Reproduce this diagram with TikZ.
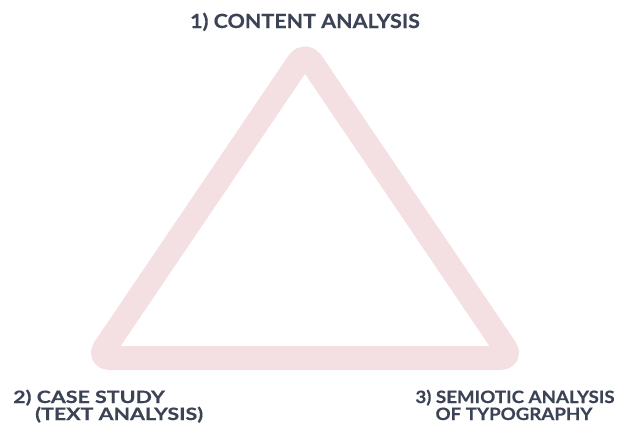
\documentclass[tikz,border=0pt]{standalone}
\usepackage{fontspec}
\setmainfont{Lato}
\newfontfamily\toplabelfont{Lato}[FakeStretch=1.1, FakeBold=0.4]
\newfontfamily\leftlabelfont{Lato}[FakeStretch=1.26, FakeBold=0.4]
\newfontfamily\rightlabelfont{Lato}[FakeStretch=1.1, FakeBold=0.4]
\usetikzlibrary{positioning}
\definecolor{trianglepink}{HTML}{F4DFE3}
\definecolor{labelgray}{HTML}{3B4354}
\tikzset{
  label text/.style={text=labelgray, inner sep=0pt},
  top text/.style={label text, font=\toplabelfont\bfseries\fontsize{19.5}{22}\selectfont},
  left text/.style={label text, font=\leftlabelfont\bfseries\fontsize{17}{20}\selectfont},
  right text/.style={label text, font=\rightlabelfont\bfseries\fontsize{17}{20}\selectfont},
}

\begin{document}
\begin{tikzpicture}[x=1pt, y=-1pt]
 \useasboundingbox (0,0) rectangle (621,431);

 % corners of the triangle
 \coordinate (apex)  at (305, 52.5);
 \coordinate (left)  at (98, 358);
 \coordinate (right) at (512, 358);

 \draw[trianglepink, line width=24pt, line join=round, rounded corners=12pt] (apex) -- (left) -- (right) -- cycle;

 % labels
 \node[top text, anchor=base] (content) at (305, 28) {1) CONTENT ANALYSIS};

 \node[left text, anchor=base west] (case) at (13, 403) {2) CASE STUDY};
 \node[left text, anchor=base west] (text) at (35, 420) {(TEXT ANALYSIS)};

 \node[right text, anchor=base] (semiotic) at (515, 403) {3) SEMIOTIC ANALYSIS};
 \node[right text, anchor=base] (typo) at (514, 420) {OF TYPOGRAPHY};

\end{tikzpicture}
\end{document}
